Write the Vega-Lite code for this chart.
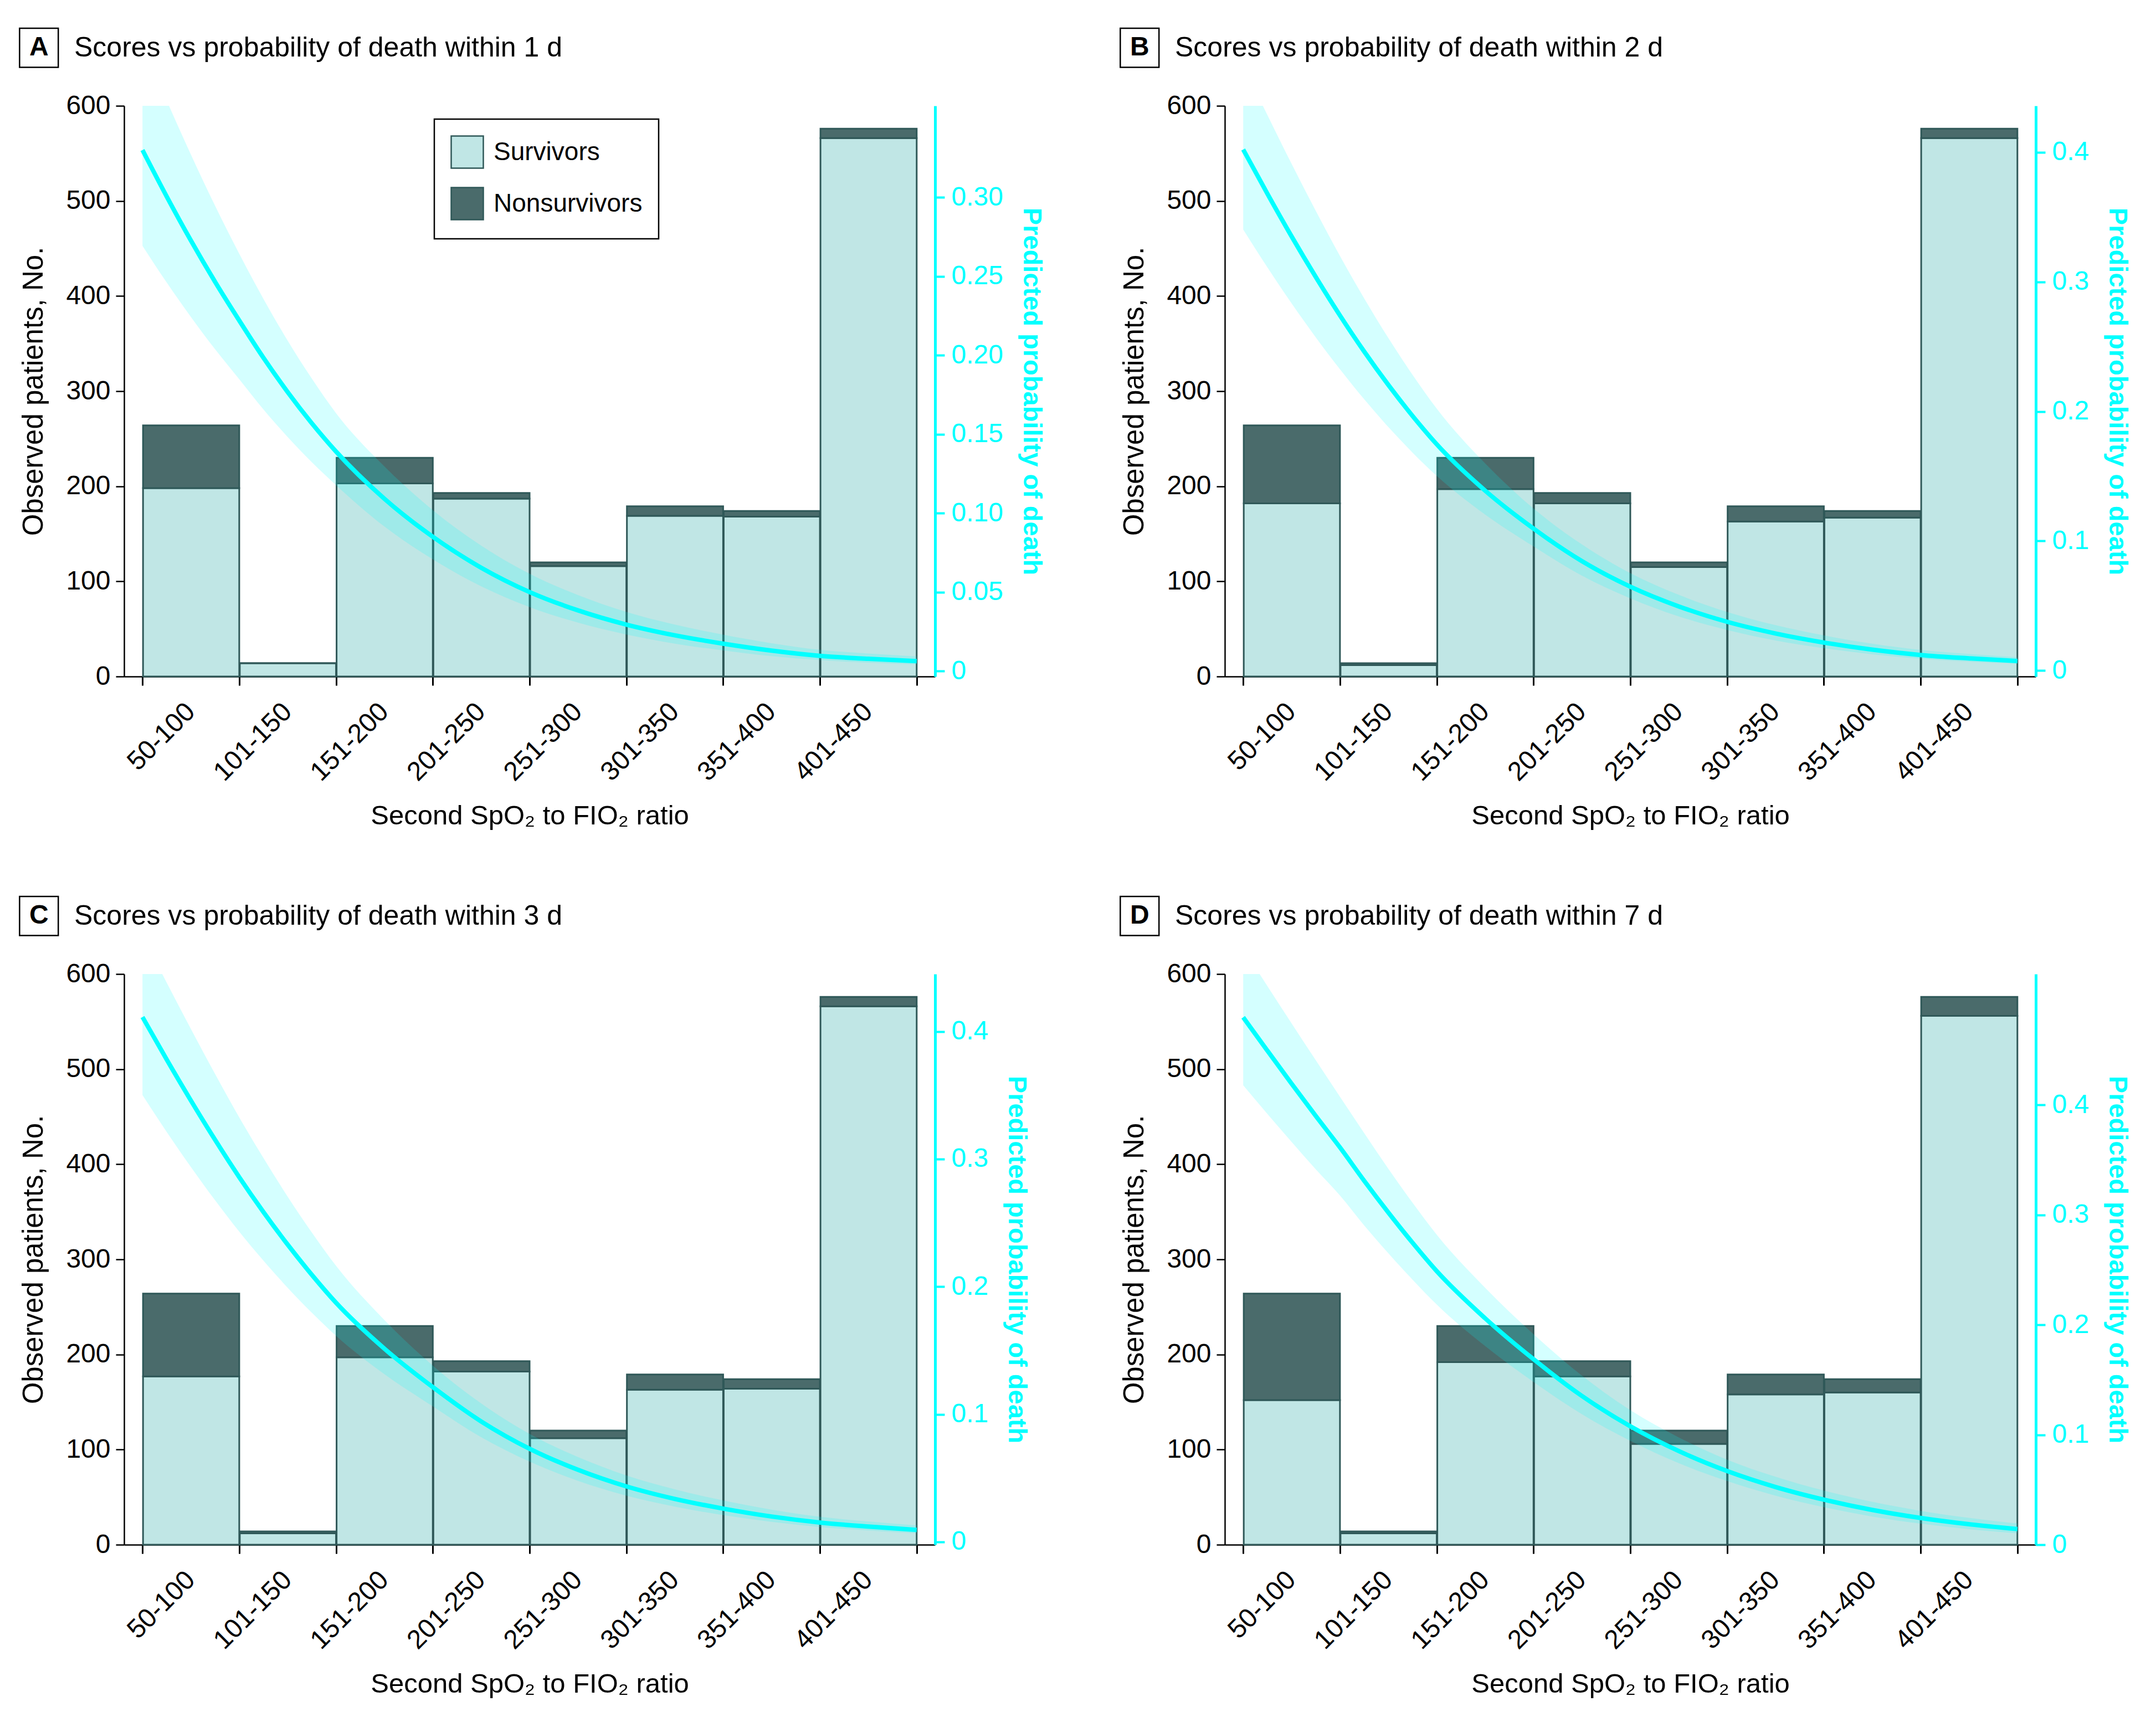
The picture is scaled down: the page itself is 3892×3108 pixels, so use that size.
{
 "$schema": "https://vega.github.io/schema/vega-lite/v6.json",
 "autosize": {"type": "none"},
 "padding": {"left": 224, "top": 191, "right": 3668, "bottom": 2917},
 "background": "white",
 "columns": 2,
 "spacing": {"row": 537, "column": 523},
 "bounds": "flush",
 "align": "all",
 "resolve": {"legend": {"color": "independent"}},
 "config": {
  "view": {"stroke": null},
  "font": "Liberation Sans",
  "axis": {"labelFont": "Liberation Sans", "titleFont": "Liberation Sans", "grid": false},
  "text": {"font": "Liberation Sans"}
 },
 "datasets": {
  "bars": [
   {"panel":"A","from":50,"to":100,"group":"Survivors","count":198},{"panel":"A","from":50,"to":100,"group":"Nonsurvivors","count":66},
   {"panel":"A","from":100,"to":150,"group":"Survivors","count":14},{"panel":"A","from":100,"to":150,"group":"Nonsurvivors","count":0},
   {"panel":"A","from":150,"to":200,"group":"Survivors","count":203},{"panel":"A","from":150,"to":200,"group":"Nonsurvivors","count":27},
   {"panel":"A","from":200,"to":250,"group":"Survivors","count":187},{"panel":"A","from":200,"to":250,"group":"Nonsurvivors","count":6},
   {"panel":"A","from":250,"to":300,"group":"Survivors","count":116},{"panel":"A","from":250,"to":300,"group":"Nonsurvivors","count":4},
   {"panel":"A","from":300,"to":350,"group":"Survivors","count":169},{"panel":"A","from":300,"to":350,"group":"Nonsurvivors","count":10},
   {"panel":"A","from":350,"to":400,"group":"Survivors","count":168},{"panel":"A","from":350,"to":400,"group":"Nonsurvivors","count":6},
   {"panel":"A","from":400,"to":450,"group":"Survivors","count":566},{"panel":"A","from":400,"to":450,"group":"Nonsurvivors","count":10},
   {"panel":"B","from":50,"to":100,"group":"Survivors","count":182},{"panel":"B","from":50,"to":100,"group":"Nonsurvivors","count":82},
   {"panel":"B","from":100,"to":150,"group":"Survivors","count":12},{"panel":"B","from":100,"to":150,"group":"Nonsurvivors","count":2},
   {"panel":"B","from":150,"to":200,"group":"Survivors","count":197},{"panel":"B","from":150,"to":200,"group":"Nonsurvivors","count":33},
   {"panel":"B","from":200,"to":250,"group":"Survivors","count":182},{"panel":"B","from":200,"to":250,"group":"Nonsurvivors","count":11},
   {"panel":"B","from":250,"to":300,"group":"Survivors","count":115},{"panel":"B","from":250,"to":300,"group":"Nonsurvivors","count":5},
   {"panel":"B","from":300,"to":350,"group":"Survivors","count":163},{"panel":"B","from":300,"to":350,"group":"Nonsurvivors","count":16},
   {"panel":"B","from":350,"to":400,"group":"Survivors","count":167},{"panel":"B","from":350,"to":400,"group":"Nonsurvivors","count":7},
   {"panel":"B","from":400,"to":450,"group":"Survivors","count":566},{"panel":"B","from":400,"to":450,"group":"Nonsurvivors","count":10},
   {"panel":"C","from":50,"to":100,"group":"Survivors","count":177},{"panel":"C","from":50,"to":100,"group":"Nonsurvivors","count":87},
   {"panel":"C","from":100,"to":150,"group":"Survivors","count":12},{"panel":"C","from":100,"to":150,"group":"Nonsurvivors","count":2},
   {"panel":"C","from":150,"to":200,"group":"Survivors","count":197},{"panel":"C","from":150,"to":200,"group":"Nonsurvivors","count":33},
   {"panel":"C","from":200,"to":250,"group":"Survivors","count":182},{"panel":"C","from":200,"to":250,"group":"Nonsurvivors","count":11},
   {"panel":"C","from":250,"to":300,"group":"Survivors","count":112},{"panel":"C","from":250,"to":300,"group":"Nonsurvivors","count":8},
   {"panel":"C","from":300,"to":350,"group":"Survivors","count":163},{"panel":"C","from":300,"to":350,"group":"Nonsurvivors","count":16},
   {"panel":"C","from":350,"to":400,"group":"Survivors","count":164},{"panel":"C","from":350,"to":400,"group":"Nonsurvivors","count":10},
   {"panel":"C","from":400,"to":450,"group":"Survivors","count":566},{"panel":"C","from":400,"to":450,"group":"Nonsurvivors","count":10},
   {"panel":"D","from":50,"to":100,"group":"Survivors","count":152},{"panel":"D","from":50,"to":100,"group":"Nonsurvivors","count":112},
   {"panel":"D","from":100,"to":150,"group":"Survivors","count":12},{"panel":"D","from":100,"to":150,"group":"Nonsurvivors","count":2},
   {"panel":"D","from":150,"to":200,"group":"Survivors","count":192},{"panel":"D","from":150,"to":200,"group":"Nonsurvivors","count":38},
   {"panel":"D","from":200,"to":250,"group":"Survivors","count":177},{"panel":"D","from":200,"to":250,"group":"Nonsurvivors","count":16},
   {"panel":"D","from":250,"to":300,"group":"Survivors","count":106},{"panel":"D","from":250,"to":300,"group":"Nonsurvivors","count":14},
   {"panel":"D","from":300,"to":350,"group":"Survivors","count":158},{"panel":"D","from":300,"to":350,"group":"Nonsurvivors","count":21},
   {"panel":"D","from":350,"to":400,"group":"Survivors","count":160},{"panel":"D","from":350,"to":400,"group":"Nonsurvivors","count":14},
   {"panel":"D","from":400,"to":450,"group":"Survivors","count":556},{"panel":"D","from":400,"to":450,"group":"Nonsurvivors","count":20}
  ],
  "curve": [
   {"panel":"A","ratio":50,"p":0.330,"lo":0.2693,"hi":0.397},
   {"panel":"A","ratio":62.5,"p":0.3006,"lo":0.2461,"hi":0.3614},
   {"panel":"A","ratio":75,"p":0.2727,"lo":0.2243,"hi":0.3272},
   {"panel":"A","ratio":87.5,"p":0.2465,"lo":0.2038,"hi":0.2947},
   {"panel":"A","ratio":100,"p":0.222,"lo":0.1848,"hi":0.2643},
   {"panel":"A","ratio":112.5,"p":0.1984,"lo":0.1657,"hi":0.2357},
   {"panel":"A","ratio":125,"p":0.1767,"lo":0.1482,"hi":0.2093},
   {"panel":"A","ratio":137.5,"p":0.1569,"lo":0.1322,"hi":0.1852},
   {"panel":"A","ratio":150,"p":0.139,"lo":0.1177,"hi":0.1633},
   {"panel":"A","ratio":175,"p":0.1091,"lo":0.0915,"hi":0.1296},
   {"panel":"A","ratio":200,"p":0.085,"lo":0.0707,"hi":0.1019},
   {"panel":"A","ratio":225,"p":0.0654,"lo":0.0536,"hi":0.0794},
   {"panel":"A","ratio":250,"p":0.050,"lo":0.0405,"hi":0.0616},
   {"panel":"A","ratio":275,"p":0.0384,"lo":0.0306,"hi":0.0481},
   {"panel":"A","ratio":300,"p":0.0294,"lo":0.0231,"hi":0.0374},
   {"panel":"A","ratio":325,"p":0.0226,"lo":0.0173,"hi":0.0294},
   {"panel":"A","ratio":350,"p":0.0173,"lo":0.0130,"hi":0.0230},
   {"panel":"A","ratio":375,"p":0.0129,"lo":0.0094,"hi":0.0176},
   {"panel":"A","ratio":400,"p":0.0096,"lo":0.0069,"hi":0.0134},
   {"panel":"A","ratio":425,"p":0.0077,"lo":0.0053,"hi":0.0111},
   {"panel":"A","ratio":450,"p":0.0062,"lo":0.0042,"hi":0.0092},
   {"panel":"B","ratio":50,"p":0.402,"lo":0.3403,"hi":0.467},
   {"panel":"B","ratio":62.5,"p":0.3679,"lo":0.3111,"hi":0.4286},
   {"panel":"B","ratio":75,"p":0.3350,"lo":0.2833,"hi":0.3910},
   {"panel":"B","ratio":87.5,"p":0.3037,"lo":0.2571,"hi":0.3547},
   {"panel":"B","ratio":100,"p":0.274,"lo":0.2325,"hi":0.3199},
   {"panel":"B","ratio":112.5,"p":0.2462,"lo":0.2094,"hi":0.2872},
   {"panel":"B","ratio":125,"p":0.2204,"lo":0.1879,"hi":0.2566},
   {"panel":"B","ratio":137.5,"p":0.1965,"lo":0.1682,"hi":0.2282},
   {"panel":"B","ratio":150,"p":0.1746,"lo":0.1502,"hi":0.2021},
   {"panel":"B","ratio":175,"p":0.1389,"lo":0.1204,"hi":0.1599},
   {"panel":"B","ratio":200,"p":0.1096,"lo":0.0958,"hi":0.1251},
   {"panel":"B","ratio":225,"p":0.0845,"lo":0.0733,"hi":0.0974},
   {"panel":"B","ratio":250,"p":0.0648,"lo":0.0558,"hi":0.0752},
   {"panel":"B","ratio":275,"p":0.0496,"lo":0.0419,"hi":0.0585},
   {"panel":"B","ratio":300,"p":0.0377,"lo":0.0314,"hi":0.0453},
   {"panel":"B","ratio":325,"p":0.0287,"lo":0.0233,"hi":0.0351},
   {"panel":"B","ratio":350,"p":0.0217,"lo":0.0173,"hi":0.0272},
   {"panel":"B","ratio":375,"p":0.0162,"lo":0.0126,"hi":0.0208},
   {"panel":"B","ratio":400,"p":0.0121,"lo":0.0092,"hi":0.0160},
   {"panel":"B","ratio":425,"p":0.0095,"lo":0.0070,"hi":0.0129},
   {"panel":"B","ratio":450,"p":0.0074,"lo":0.0053,"hi":0.0104},
   {"panel":"C","ratio":50,"p":0.4113,"lo":0.3501,"hi":0.4754},
   {"panel":"C","ratio":62.5,"p":0.3780,"lo":0.3213,"hi":0.4383},
   {"panel":"C","ratio":75,"p":0.3459,"lo":0.2938,"hi":0.4020},
   {"panel":"C","ratio":87.5,"p":0.3151,"lo":0.2677,"hi":0.3667},
   {"panel":"C","ratio":100,"p":0.2858,"lo":0.2431,"hi":0.3327},
   {"panel":"C","ratio":112.5,"p":0.2585,"lo":0.2204,"hi":0.3008},
   {"panel":"C","ratio":125,"p":0.2330,"lo":0.1992,"hi":0.2706},
   {"panel":"C","ratio":137.5,"p":0.2093,"lo":0.1796,"hi":0.2425},
   {"panel":"C","ratio":150,"p":0.1874,"lo":0.1615,"hi":0.2164},
   {"panel":"C","ratio":175,"p":0.1514,"lo":0.1314,"hi":0.1739},
   {"panel":"C","ratio":200,"p":0.1213,"lo":0.1062,"hi":0.1382},
   {"panel":"C","ratio":225,"p":0.0944,"lo":0.0820,"hi":0.1085},
   {"panel":"C","ratio":250,"p":0.073,"lo":0.0629,"hi":0.0846},
   {"panel":"C","ratio":275,"p":0.0565,"lo":0.0478,"hi":0.0665},
   {"panel":"C","ratio":300,"p":0.0435,"lo":0.0362,"hi":0.0521},
   {"panel":"C","ratio":325,"p":0.0337,"lo":0.0276,"hi":0.0412},
   {"panel":"C","ratio":350,"p":0.0261,"lo":0.0210,"hi":0.0325},
   {"panel":"C","ratio":375,"p":0.0199,"lo":0.0157,"hi":0.0253},
   {"panel":"C","ratio":400,"p":0.0152,"lo":0.0117,"hi":0.0197},
   {"panel":"C","ratio":425,"p":0.0120,"lo":0.0090,"hi":0.0160},
   {"panel":"C","ratio":450,"p":0.0094,"lo":0.0068,"hi":0.0129},
   {"panel":"D","ratio":50,"p":0.4796,"lo":0.4179,"hi":0.5420},
   {"panel":"D","ratio":62.5,"p":0.4493,"lo":0.3918,"hi":0.5081},
   {"panel":"D","ratio":75,"p":0.4193,"lo":0.3663,"hi":0.4742},
   {"panel":"D","ratio":87.5,"p":0.3899,"lo":0.3414,"hi":0.4406},
   {"panel":"D","ratio":100,"p":0.3613,"lo":0.3176,"hi":0.4074},
   {"panel":"D","ratio":112.5,"p":0.3310,"lo":0.2904,"hi":0.3744},
   {"panel":"D","ratio":125,"p":0.3021,"lo":0.2651,"hi":0.3419},
   {"panel":"D","ratio":137.5,"p":0.2746,"lo":0.2410,"hi":0.3110},
   {"panel":"D","ratio":150,"p":0.2488,"lo":0.2184,"hi":0.2819},
   {"panel":"D","ratio":175,"p":0.2059,"lo":0.1806,"hi":0.2337},
   {"panel":"D","ratio":200,"p":0.1687,"lo":0.1480,"hi":0.1915},
   {"panel":"D","ratio":225,"p":0.1353,"lo":0.1187,"hi":0.1538},
   {"panel":"D","ratio":250,"p":0.1077,"lo":0.0945,"hi":0.1224},
   {"panel":"D","ratio":275,"p":0.0852,"lo":0.0742,"hi":0.0976},
   {"panel":"D","ratio":300,"p":0.067,"lo":0.0579,"hi":0.0774},
   {"panel":"D","ratio":325,"p":0.0525,"lo":0.0446,"hi":0.0618},
   {"panel":"D","ratio":350,"p":0.041,"lo":0.0341,"hi":0.0492},
   {"panel":"D","ratio":375,"p":0.0316,"lo":0.0256,"hi":0.0390},
   {"panel":"D","ratio":400,"p":0.0243,"lo":0.0191,"hi":0.0308},
   {"panel":"D","ratio":425,"p":0.0186,"lo":0.0141,"hi":0.0244},
   {"panel":"D","ratio":450,"p":0.0142,"lo":0.0105,"hi":0.0193}
  ]
 },
 "concat": [
  {
   "width": 1464, "height": 1030,
   "title": {"text": "Scores vs probability of death within 1 d", "anchor": "start", "frame": "group", "dx": -90, "offset": -102, "baseline": "alphabetic", "fontSize": 50, "font": "Liberation Sans", "fontWeight": "normal", "color": "black"},
   "layer": [
    {"layer": [
     {"data": {"name": "bars"}, "transform": [{"filter": "datum.panel === 'A'"}],
      "mark": {"type": "bar", "stroke": "#2f5858", "strokeWidth": 3},
      "encoding": {
       "x": {"field": "from", "type": "quantitative", "bin": "binned", "scale": {"domain": [40.5, 459.5], "nice": false, "zero": false},
        "axis": {"values": [50,100,150,200,250,300,350,400,450], "labelExpr": "datum.value == 50 ? '50-100' : datum.value < 450 ? (datum.value + 1) + '-' + (datum.value + 50) : ''", "labelAngle": -45, "labelAlign": "right", "labelBaseline": "middle", "labelOffset": 87, "labelPadding": 40, "labelFontSize": 48, "labelColor": "black", "labelFlush": false, "labelOverlap": false, "labelBound": false, "tickSize": 16, "tickWidth": 3, "tickColor": "black", "domainColor": "black", "domainWidth": 2.5, "title": "Second SpO₂ to FIO₂ ratio", "titleFontSize": 49, "titleFontWeight": "normal", "titleColor": "black", "titlePadding": 30}},
       "x2": {"field": "to"},
       "y": {"field": "count", "type": "quantitative", "stack": "zero", "scale": {"domain": [0, 600], "nice": false, "zero": false},
        "axis": {"orient": "left", "title": "Observed patients, No.", "values": [0,100,200,300,400,500,600], "format": "d", "domainColor": "black", "domainWidth": 2.5, "tickColor": "black", "tickWidth": 2.5, "tickSize": 15, "labelFontSize": 48, "labelColor": "black", "labelPadding": 10, "titleFontSize": 51, "titleFontWeight": "normal", "titleColor": "black", "titlePadding": 31}},
       "color": {"field": "group", "type": "nominal", "scale": {"domain": ["Survivors", "Nonsurvivors"], "range": ["#c0e6e5", "#4a6b6b"]},
        "legend": {"orient": "none", "legendX": 560, "legendY": 24, "title": null, "symbolType": "square", "symbolSize": 3364, "symbolStrokeColor": "#2f5858", "symbolStrokeWidth": 2.5, "symbolOpacity": 1, "labelFontSize": 46, "labelFont": "Liberation Sans", "labelColor": "black", "labelOffset": 17, "labelLimit": 500, "rowPadding": 24, "padding": 29, "strokeColor": "black", "encode": {"legend": {"update": {"strokeWidth": {"value": 2.5}}}}}},
       "order": {"field": "group", "sort": "descending"}
      }},
     {"data": {"values": [{"label": "A"}]},
      "mark": {"type": "rect", "fill": "white", "stroke": "black", "strokeWidth": 2.5},
      "encoding": {"x": {"datum": -13.5, "type": "quantitative"}, "x2": {"datum": 6.5}, "y": {"datum": 681.5, "type": "quantitative"}, "y2": {"datum": 640.5}}},
     {"data": {"values": [{"label": "A"}]},
      "mark": {"type": "text", "fontSize": 48, "fontWeight": "bold", "font": "Liberation Sans", "align": "center", "baseline": "middle", "color": "black"},
      "encoding": {"x": {"datum": -3.5, "type": "quantitative"}, "y": {"datum": 661, "type": "quantitative"}, "text": {"field": "label"}}}
    ]},
    {"data": {"name": "curve"}, "transform": [{"filter": "datum.panel === 'A'"}],
     "layer": [
      {"mark": {"type": "area", "color": "#00ffff", "opacity": 0.17, "clip": true, "interpolate": "monotone"},
       "encoding": {
        "x": {"field": "ratio", "type": "quantitative"},
        "y": {"field": "lo", "type": "quantitative", "scale": {"domain": [-0.0035, 0.358], "nice": false, "zero": false},
         "axis": {"orient": "right", "title": "Predicted probability of death", "values": [0,0.05,0.1,0.15,0.2,0.25,0.3], "labelExpr": "datum.value == 0 ? '0' : format(datum.value, '.2f')", "domainColor": "#00ffff", "domainWidth": 5, "tickColor": "#00ffff", "tickWidth": 4, "tickSize": 17, "labelColor": "#00ffff", "labelFontSize": 48, "labelPadding": 12, "titleColor": "#00ffff", "titleFontSize": 47, "titleFontWeight": "bold", "titlePadding": 27}},
        "y2": {"field": "hi"}
       }},
      {"mark": {"type": "line", "color": "#00ffff", "strokeWidth": 8, "interpolate": "monotone", "clip": true},
       "encoding": {"x": {"field": "ratio", "type": "quantitative"}, "y": {"field": "p", "type": "quantitative"}}}
     ]}
   ],
   "resolve": {"scale": {"y": "independent"}, "axis": {"y": "independent"}}
  },
  {
   "width": 1464, "height": 1030,
   "title": {"text": "Scores vs probability of death within 2 d", "anchor": "start", "frame": "group", "dx": -90, "offset": -102, "baseline": "alphabetic", "fontSize": 50, "font": "Liberation Sans", "fontWeight": "normal", "color": "black"},
   "layer": [
    {"layer": [
     {"data": {"name": "bars"}, "transform": [{"filter": "datum.panel === 'B'"}],
      "mark": {"type": "bar", "stroke": "#2f5858", "strokeWidth": 3},
      "encoding": {
       "x": {"field": "from", "type": "quantitative", "bin": "binned", "scale": {"domain": [40.5, 459.5], "nice": false, "zero": false},
        "axis": {"values": [50,100,150,200,250,300,350,400,450], "labelExpr": "datum.value == 50 ? '50-100' : datum.value < 450 ? (datum.value + 1) + '-' + (datum.value + 50) : ''", "labelAngle": -45, "labelAlign": "right", "labelBaseline": "middle", "labelOffset": 87, "labelPadding": 40, "labelFontSize": 48, "labelColor": "black", "labelFlush": false, "labelOverlap": false, "labelBound": false, "tickSize": 16, "tickWidth": 3, "tickColor": "black", "domainColor": "black", "domainWidth": 2.5, "title": "Second SpO₂ to FIO₂ ratio", "titleFontSize": 49, "titleFontWeight": "normal", "titleColor": "black", "titlePadding": 30}},
       "x2": {"field": "to"},
       "y": {"field": "count", "type": "quantitative", "stack": "zero", "scale": {"domain": [0, 600], "nice": false, "zero": false},
        "axis": {"orient": "left", "title": "Observed patients, No.", "values": [0,100,200,300,400,500,600], "format": "d", "domainColor": "black", "domainWidth": 2.5, "tickColor": "black", "tickWidth": 2.5, "tickSize": 15, "labelFontSize": 48, "labelColor": "black", "labelPadding": 10, "titleFontSize": 51, "titleFontWeight": "normal", "titleColor": "black", "titlePadding": 31}},
       "color": {"field": "group", "type": "nominal", "scale": {"domain": ["Survivors", "Nonsurvivors"], "range": ["#c0e6e5", "#4a6b6b"]}, "legend": null},
       "order": {"field": "group", "sort": "descending"}
      }},
     {"data": {"values": [{"label": "B"}]},
      "mark": {"type": "rect", "fill": "white", "stroke": "black", "strokeWidth": 2.5},
      "encoding": {"x": {"datum": -13.5, "type": "quantitative"}, "x2": {"datum": 6.5}, "y": {"datum": 681.5, "type": "quantitative"}, "y2": {"datum": 640.5}}},
     {"data": {"values": [{"label": "B"}]},
      "mark": {"type": "text", "fontSize": 48, "fontWeight": "bold", "font": "Liberation Sans", "align": "center", "baseline": "middle", "color": "black"},
      "encoding": {"x": {"datum": -3.5, "type": "quantitative"}, "y": {"datum": 661, "type": "quantitative"}, "text": {"field": "label"}}}
    ]},
    {"data": {"name": "curve"}, "transform": [{"filter": "datum.panel === 'B'"}],
     "layer": [
      {"mark": {"type": "area", "color": "#00ffff", "opacity": 0.17, "clip": true, "interpolate": "monotone"},
       "encoding": {
        "x": {"field": "ratio", "type": "quantitative"},
        "y": {"field": "lo", "type": "quantitative", "scale": {"domain": [-0.0045, 0.4357], "nice": false, "zero": false},
         "axis": {"orient": "right", "title": "Predicted probability of death", "values": [0,0.1,0.2,0.3,0.4], "labelExpr": "datum.value == 0 ? '0' : format(datum.value, '.1f')", "domainColor": "#00ffff", "domainWidth": 5, "tickColor": "#00ffff", "tickWidth": 4, "tickSize": 17, "labelColor": "#00ffff", "labelFontSize": 48, "labelPadding": 12, "titleColor": "#00ffff", "titleFontSize": 47, "titleFontWeight": "bold", "titlePadding": 27}},
        "y2": {"field": "hi"}
       }},
      {"mark": {"type": "line", "color": "#00ffff", "strokeWidth": 8, "interpolate": "monotone", "clip": true},
       "encoding": {"x": {"field": "ratio", "type": "quantitative"}, "y": {"field": "p", "type": "quantitative"}}}
     ]}
   ],
   "resolve": {"scale": {"y": "independent"}, "axis": {"y": "independent"}}
  },
  {
   "width": 1464, "height": 1030,
   "title": {"text": "Scores vs probability of death within 3 d", "anchor": "start", "frame": "group", "dx": -90, "offset": -102, "baseline": "alphabetic", "fontSize": 50, "font": "Liberation Sans", "fontWeight": "normal", "color": "black"},
   "layer": [
    {"layer": [
     {"data": {"name": "bars"}, "transform": [{"filter": "datum.panel === 'C'"}],
      "mark": {"type": "bar", "stroke": "#2f5858", "strokeWidth": 3},
      "encoding": {
       "x": {"field": "from", "type": "quantitative", "bin": "binned", "scale": {"domain": [40.5, 459.5], "nice": false, "zero": false},
        "axis": {"values": [50,100,150,200,250,300,350,400,450], "labelExpr": "datum.value == 50 ? '50-100' : datum.value < 450 ? (datum.value + 1) + '-' + (datum.value + 50) : ''", "labelAngle": -45, "labelAlign": "right", "labelBaseline": "middle", "labelOffset": 87, "labelPadding": 40, "labelFontSize": 48, "labelColor": "black", "labelFlush": false, "labelOverlap": false, "labelBound": false, "tickSize": 16, "tickWidth": 3, "tickColor": "black", "domainColor": "black", "domainWidth": 2.5, "title": "Second SpO₂ to FIO₂ ratio", "titleFontSize": 49, "titleFontWeight": "normal", "titleColor": "black", "titlePadding": 30}},
       "x2": {"field": "to"},
       "y": {"field": "count", "type": "quantitative", "stack": "zero", "scale": {"domain": [0, 600], "nice": false, "zero": false},
        "axis": {"orient": "left", "title": "Observed patients, No.", "values": [0,100,200,300,400,500,600], "format": "d", "domainColor": "black", "domainWidth": 2.5, "tickColor": "black", "tickWidth": 2.5, "tickSize": 15, "labelFontSize": 48, "labelColor": "black", "labelPadding": 10, "titleFontSize": 51, "titleFontWeight": "normal", "titleColor": "black", "titlePadding": 31}},
       "color": {"field": "group", "type": "nominal", "scale": {"domain": ["Survivors", "Nonsurvivors"], "range": ["#c0e6e5", "#4a6b6b"]}, "legend": null},
       "order": {"field": "group", "sort": "descending"}
      }},
     {"data": {"values": [{"label": "C"}]},
      "mark": {"type": "rect", "fill": "white", "stroke": "black", "strokeWidth": 2.5},
      "encoding": {"x": {"datum": -13.5, "type": "quantitative"}, "x2": {"datum": 6.5}, "y": {"datum": 681.5, "type": "quantitative"}, "y2": {"datum": 640.5}}},
     {"data": {"values": [{"label": "C"}]},
      "mark": {"type": "text", "fontSize": 48, "fontWeight": "bold", "font": "Liberation Sans", "align": "center", "baseline": "middle", "color": "black"},
      "encoding": {"x": {"datum": -3.5, "type": "quantitative"}, "y": {"datum": 661, "type": "quantitative"}, "text": {"field": "label"}}}
    ]},
    {"data": {"name": "curve"}, "transform": [{"filter": "datum.panel === 'C'"}],
     "layer": [
      {"mark": {"type": "area", "color": "#00ffff", "opacity": 0.17, "clip": true, "interpolate": "monotone"},
       "encoding": {
        "x": {"field": "ratio", "type": "quantitative"},
        "y": {"field": "lo", "type": "quantitative", "scale": {"domain": [-0.0022, 0.445], "nice": false, "zero": false},
         "axis": {"orient": "right", "title": "Predicted probability of death", "values": [0,0.1,0.2,0.3,0.4], "labelExpr": "datum.value == 0 ? '0' : format(datum.value, '.1f')", "domainColor": "#00ffff", "domainWidth": 5, "tickColor": "#00ffff", "tickWidth": 4, "tickSize": 17, "labelColor": "#00ffff", "labelFontSize": 48, "labelPadding": 12, "titleColor": "#00ffff", "titleFontSize": 47, "titleFontWeight": "bold", "titlePadding": 27}},
        "y2": {"field": "hi"}
       }},
      {"mark": {"type": "line", "color": "#00ffff", "strokeWidth": 8, "interpolate": "monotone", "clip": true},
       "encoding": {"x": {"field": "ratio", "type": "quantitative"}, "y": {"field": "p", "type": "quantitative"}}}
     ]}
   ],
   "resolve": {"scale": {"y": "independent"}, "axis": {"y": "independent"}}
  },
  {
   "width": 1464, "height": 1030,
   "title": {"text": "Scores vs probability of death within 7 d", "anchor": "start", "frame": "group", "dx": -90, "offset": -102, "baseline": "alphabetic", "fontSize": 50, "font": "Liberation Sans", "fontWeight": "normal", "color": "black"},
   "layer": [
    {"layer": [
     {"data": {"name": "bars"}, "transform": [{"filter": "datum.panel === 'D'"}],
      "mark": {"type": "bar", "stroke": "#2f5858", "strokeWidth": 3},
      "encoding": {
       "x": {"field": "from", "type": "quantitative", "bin": "binned", "scale": {"domain": [40.5, 459.5], "nice": false, "zero": false},
        "axis": {"values": [50,100,150,200,250,300,350,400,450], "labelExpr": "datum.value == 50 ? '50-100' : datum.value < 450 ? (datum.value + 1) + '-' + (datum.value + 50) : ''", "labelAngle": -45, "labelAlign": "right", "labelBaseline": "middle", "labelOffset": 87, "labelPadding": 40, "labelFontSize": 48, "labelColor": "black", "labelFlush": false, "labelOverlap": false, "labelBound": false, "tickSize": 16, "tickWidth": 3, "tickColor": "black", "domainColor": "black", "domainWidth": 2.5, "title": "Second SpO₂ to FIO₂ ratio", "titleFontSize": 49, "titleFontWeight": "normal", "titleColor": "black", "titlePadding": 30}},
       "x2": {"field": "to"},
       "y": {"field": "count", "type": "quantitative", "stack": "zero", "scale": {"domain": [0, 600], "nice": false, "zero": false},
        "axis": {"orient": "left", "title": "Observed patients, No.", "values": [0,100,200,300,400,500,600], "format": "d", "domainColor": "black", "domainWidth": 2.5, "tickColor": "black", "tickWidth": 2.5, "tickSize": 15, "labelFontSize": 48, "labelColor": "black", "labelPadding": 10, "titleFontSize": 51, "titleFontWeight": "normal", "titleColor": "black", "titlePadding": 31}},
       "color": {"field": "group", "type": "nominal", "scale": {"domain": ["Survivors", "Nonsurvivors"], "range": ["#c0e6e5", "#4a6b6b"]}, "legend": null},
       "order": {"field": "group", "sort": "descending"}
      }},
     {"data": {"values": [{"label": "D"}]},
      "mark": {"type": "rect", "fill": "white", "stroke": "black", "strokeWidth": 2.5},
      "encoding": {"x": {"datum": -13.5, "type": "quantitative"}, "x2": {"datum": 6.5}, "y": {"datum": 681.5, "type": "quantitative"}, "y2": {"datum": 640.5}}},
     {"data": {"values": [{"label": "D"}]},
      "mark": {"type": "text", "fontSize": 48, "fontWeight": "bold", "font": "Liberation Sans", "align": "center", "baseline": "middle", "color": "black"},
      "encoding": {"x": {"datum": -3.5, "type": "quantitative"}, "y": {"datum": 661, "type": "quantitative"}, "text": {"field": "label"}}}
    ]},
    {"data": {"name": "curve"}, "transform": [{"filter": "datum.panel === 'D'"}],
     "layer": [
      {"mark": {"type": "area", "color": "#00ffff", "opacity": 0.17, "clip": true, "interpolate": "monotone"},
       "encoding": {
        "x": {"field": "ratio", "type": "quantitative"},
        "y": {"field": "lo", "type": "quantitative", "scale": {"domain": [0, 0.519], "nice": false, "zero": false},
         "axis": {"orient": "right", "title": "Predicted probability of death", "values": [0,0.1,0.2,0.3,0.4], "labelExpr": "datum.value == 0 ? '0' : format(datum.value, '.1f')", "domainColor": "#00ffff", "domainWidth": 5, "tickColor": "#00ffff", "tickWidth": 4, "tickSize": 17, "labelColor": "#00ffff", "labelFontSize": 48, "labelPadding": 12, "titleColor": "#00ffff", "titleFontSize": 47, "titleFontWeight": "bold", "titlePadding": 27}},
        "y2": {"field": "hi"}
       }},
      {"mark": {"type": "line", "color": "#00ffff", "strokeWidth": 8, "interpolate": "monotone", "clip": true},
       "encoding": {"x": {"field": "ratio", "type": "quantitative"}, "y": {"field": "p", "type": "quantitative"}}}
     ]}
   ],
   "resolve": {"scale": {"y": "independent"}, "axis": {"y": "independent"}}
  }
 ]
}
